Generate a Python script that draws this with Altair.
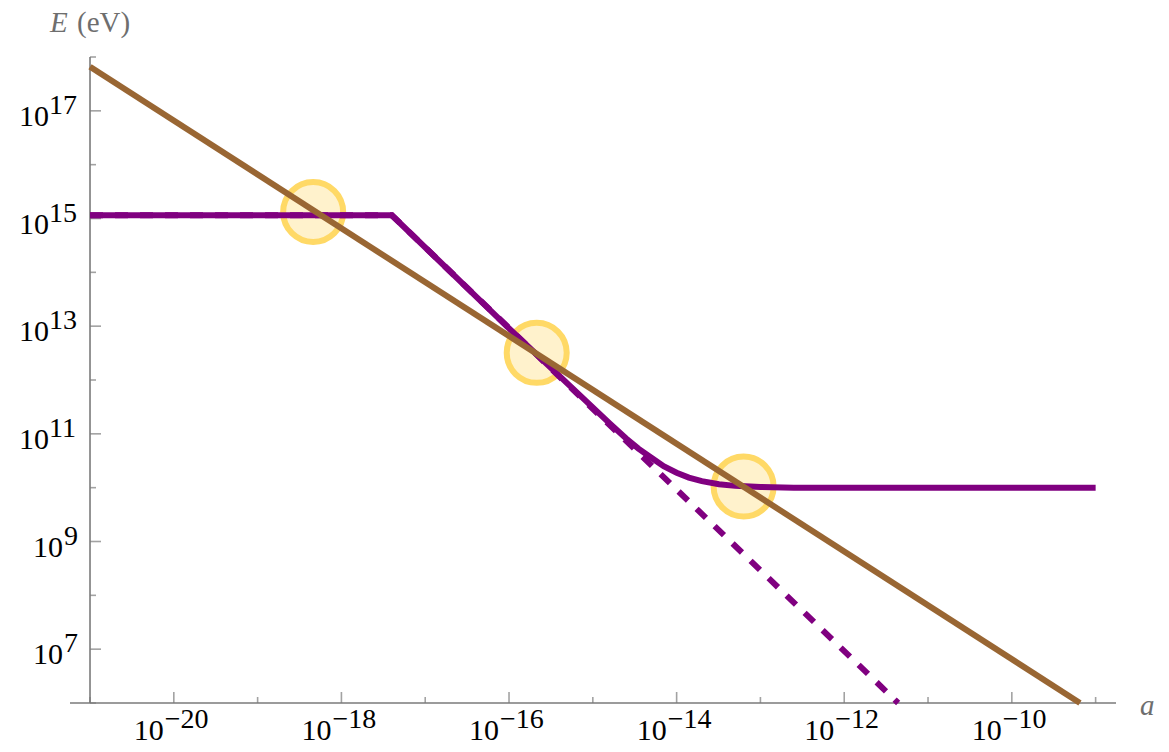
import altair as alt
import pandas as pd

# ---- plot range -------------------------------------------------------------
A_MIN, A_MAX = 5.77e-22, 1.75e-9     # horizontal extent of the a axis line
A_AXIS = 1e-21                       # where the E axis stands
E_MIN, E_MAX = 1e6, 1e18

# ---- curves -----------------------------------------------------------------
# straight E ~ 1/a line
brown_a = [1e-21, 6.5e-10]
brown_E = [6.6e17, 1e6]

# plateau followed by the a^(-3/2) fall (dashed, no floor)
dash_a = [1e-21, 4e-18, 4.4e-12]
dash_E = [1.15e15, 1.15e15, 1e6]

# same curve levelling off at 1e10 eV
solid_a = [1e-21, 4e-18, 1e-16, 1.6e-15, 2.5e-15, 3.5e-15, 5e-15, 7e-15,
           1e-14, 1.4e-14, 2e-14, 3.2e-14, 5e-14, 1e-13, 2.5e-13, 1e-9]
solid_E = [1.15e15, 1.15e15, 9.1e12, 1.55e11, 8.2e10, 5.3e10, 3.6e10, 2.5e10,
           1.9e10, 1.54e10, 1.32e10, 1.16e10, 1.08e10, 1.03e10, 1.0e10, 1.0e10]

# highlighted crossings
mark_a = [4.6e-19, 2.14e-16, 6.3e-14]
mark_E = [1.32e15, 3.2e12, 1.05e10]

# ---- ticks ------------------------------------------------------------------
x_major_exp = [-20, -18, -16, -14, -12, -10]
x_minor_exp = [-21, -19, -17, -15, -13, -11, -9]
y_major_exp = [7, 9, 11, 13, 15, 17]
y_minor_exp = [6, 8, 10, 12, 14, 16, 18]

SERIF = "Liberation Serif, Times New Roman, serif"
AXIS_GREY = "#7a7a7a"
LABEL_GREY = "#6e6e6e"
BASE_SIZE = 30
SUP_SIZE = 28

xs = alt.Scale(type="log", domain=[A_MIN, A_MAX], nice=False)
ys = alt.Scale(type="log", domain=[E_MIN, E_MAX], nice=False)


def enc(**extra):
    return dict(x=alt.X("a:Q", scale=xs, axis=None),
                y=alt.Y("E:Q", scale=ys, axis=None), **extra)


def sup(n):
    return ("\u2212" + str(-n)) if n < 0 else str(n)


brown = pd.DataFrame({"a": brown_a, "E": brown_E})
dashed = pd.DataFrame({"a": dash_a, "E": dash_E})
solid = pd.DataFrame({"a": solid_a, "E": solid_E})
marks = pd.DataFrame({"a": mark_a, "E": mark_E})

x_axis = pd.DataFrame({"a": [A_MIN], "a2": [A_MAX], "E": [E_MIN]})
y_axis = pd.DataFrame({"a": [A_AXIS], "E": [E_MIN], "E2": [E_MAX]})

x_major = pd.DataFrame({"a": [10.0 ** k for k in x_major_exp], "E": E_MIN,
                        "sup": [sup(k) for k in x_major_exp]})
x_minor = pd.DataFrame({"a": [10.0 ** k for k in x_minor_exp], "E": E_MIN})
y_major = pd.DataFrame({"a": A_AXIS, "E": [10.0 ** k for k in y_major_exp],
                        "sup": [sup(k) for k in y_major_exp]})
y_minor = pd.DataFrame({"a": A_AXIS, "E": [10.0 ** k for k in y_minor_exp]})
y_major_2 = y_major[y_major["sup"].str.len() == 2]
y_major_1 = y_major[y_major["sup"].str.len() == 1]

corner_E = pd.DataFrame({"a": [A_AXIS], "E": [E_MAX]})
corner_a = pd.DataFrame({"a": [A_MAX], "E": [E_MIN]})

layers = [
    # axis lines
    alt.Chart(x_axis).mark_rule(color=AXIS_GREY, strokeWidth=1.6).encode(
        x=alt.X("a:Q", scale=xs, axis=None), x2="a2:Q",
        y=alt.Y("E:Q", scale=ys, axis=None)),
    alt.Chart(y_axis).mark_rule(color=AXIS_GREY, strokeWidth=1.6).encode(
        x=alt.X("a:Q", scale=xs, axis=None),
        y=alt.Y("E:Q", scale=ys, axis=None), y2="E2:Q"),
    # inward ticks
    alt.Chart(x_major).mark_tick(orient="vertical", size=11, thickness=1.6,
                                 yOffset=-5.5, color=AXIS_GREY).encode(**enc()),
    alt.Chart(x_minor).mark_tick(orient="vertical", size=6, thickness=1.6,
                                 yOffset=-3, color=AXIS_GREY).encode(**enc()),
    alt.Chart(y_major).mark_tick(orient="horizontal", size=11, thickness=1.6,
                                 xOffset=5.5, color=AXIS_GREY).encode(**enc()),
    alt.Chart(y_minor).mark_tick(orient="horizontal", size=6, thickness=1.6,
                                 xOffset=3, color=AXIS_GREY).encode(**enc()),
    # crossing markers
    alt.Chart(marks).mark_point(shape="circle", size=3600, filled=False,
                                fill="#FFF2CC", fillOpacity=1,
                                stroke="#FFD966", strokeWidth=6,
                                opacity=1).encode(**enc()),
    # curves
    alt.Chart(dashed).mark_line(color="#800080", strokeWidth=6,
                                strokeDash=[13, 12], strokeCap="butt").encode(**enc()),
    alt.Chart(solid).mark_line(color="#800080", strokeWidth=6).encode(**enc()),
    alt.Chart(brown).mark_line(color="#996633", strokeWidth=6).encode(**enc()),
    # a-axis tick labels: 10 with superscript exponent
    alt.Chart(x_major).mark_text(text="10", font=SERIF, fontSize=BASE_SIZE,
                                 align="right", baseline="alphabetic",
                                 dx=-10, dy=37, color="black").encode(**enc()),
    alt.Chart(x_major).mark_text(font=SERIF, fontSize=SUP_SIZE, align="left",
                                 baseline="alphabetic", dx=-9, dy=25,
                                 color="black").encode(**enc(text="sup:N")),
    # E-axis tick labels
    alt.Chart(y_major_2).mark_text(text="10", font=SERIF, fontSize=BASE_SIZE,
                                   align="right", baseline="alphabetic",
                                   dx=-41, dy=15, color="black").encode(**enc()),
    alt.Chart(y_major_1).mark_text(text="10", font=SERIF, fontSize=BASE_SIZE,
                                   align="right", baseline="alphabetic",
                                   dx=-27, dy=15, color="black").encode(**enc()),
    alt.Chart(y_major_2).mark_text(font=SERIF, fontSize=SUP_SIZE, align="left",
                                   baseline="alphabetic", dx=-41, dy=3,
                                   color="black").encode(**enc(text="sup:N")),
    alt.Chart(y_major_1).mark_text(font=SERIF, fontSize=SUP_SIZE, align="left",
                                   baseline="alphabetic", dx=-26, dy=3,
                                   color="black").encode(**enc(text="sup:N")),
    # axis titles
    alt.Chart(corner_E).mark_text(text="E", font=SERIF, fontSize=29,
                                  fontStyle="italic", align="left",
                                  baseline="alphabetic", dx=-40, dy=-25,
                                  color=LABEL_GREY).encode(**enc()),
    alt.Chart(corner_E).mark_text(text="(eV)", font=SERIF, fontSize=29,
                                  align="left", baseline="alphabetic",
                                  dx=-13, dy=-25,
                                  color=LABEL_GREY).encode(**enc()),
    alt.Chart(corner_a).mark_text(text="a", font=SERIF, fontSize=29,
                                  fontStyle="italic", align="left",
                                  baseline="alphabetic", dx=24, dy=12,
                                  color=LABEL_GREY).encode(**enc()),
]

chart = alt.layer(*layers).properties(
    width=1046, height=646,
    autosize=alt.AutoSizeParams(type="none"),
    padding={"left": 70, "top": 57, "right": 53, "bottom": 49},
).configure_view(stroke=None)

chart.save("out.html", embed_options={"renderer": "svg", "actions": False})
